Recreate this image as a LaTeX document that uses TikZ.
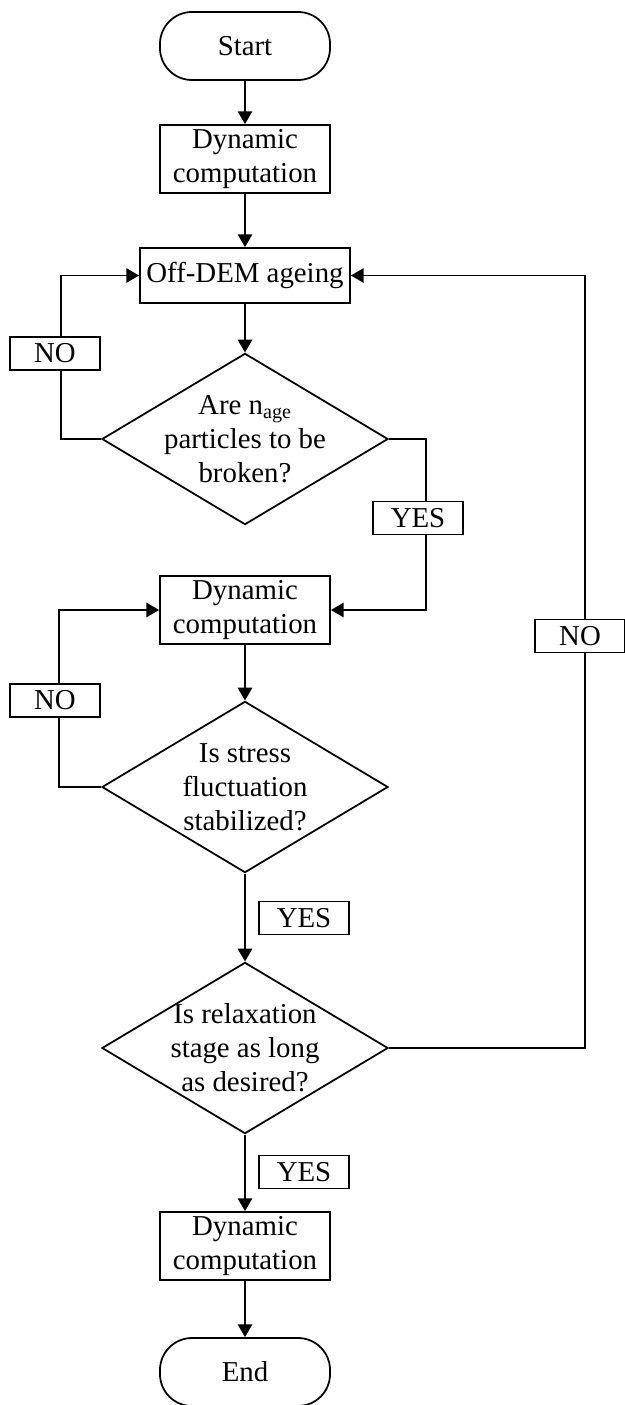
\documentclass[tikz,border=0pt]{standalone}
\usepackage{fontspec}
\setmainfont{Liberation Serif}
\usetikzlibrary{shapes.geometric,arrows.meta}

\begin{document}
\begin{tikzpicture}[x=0.025cm, y=-0.025cm, line width=1.25pt, >={Triangle[length=0.32cm,width=0.36cm]},
    every node/.style={font=\fontsize{20.5}{24.3}\selectfont, align=center},
    term/.style={draw, rounded corners=0.8cm, minimum width=4.25cm, minimum height=1.7cm, inner sep=0pt},
    proc/.style={draw, minimum width=4.25cm, minimum height=1.7cm, inner sep=0pt},
    decision/.style={draw, diamond, minimum width=7.15cm, minimum height=4.28cm, inner sep=0pt},
    answer/.style={draw, fill=white, minimum width=2.25cm, minimum height=0.82cm, inner sep=0pt}]
    \useasboundingbox (0,0) rectangle (624,1405);

    \node[term] (start) at (245,46) {Start};
    \node[proc] (dyn1) at (245,159) {Dynamic\\computation};
    \node[proc, minimum width=5.25cm, minimum height=1.375cm] (ageing) at (245,275.5) {Off-DEM ageing};
    \node[decision] (q1) at (245,439) {};
    \node (q1t) at (q1.center) {Are n\textsubscript{age}\\particles to be\\broken?};
    \node[proc] (dyn2) at (245,610) {Dynamic\\computation};
    \node[decision] (q2) at (245,787) {};
    \node (q2t) at (q2.center) {Is stress\\fluctuation\\stabilized?};
    \node[decision] (q3) at (245,1048) {};
    \node (q3t) at (q3.center) {Is relaxation\\stage as long\\as desired?};
    \node[proc] (dyn3) at (245,1246) {Dynamic\\computation};
    \node[term] (end) at (245,1372) {End};

    \draw[->] (start) -- (dyn1);
    \draw[->] (dyn1) -- (ageing);
    \draw[->] (ageing) -- (q1);
    \draw[->] (q1.west) -- ++(-40,0) |- (ageing.west);
    \draw[->] (q1.east) -- ++(37,0) |- (dyn2.east);
    \draw[->] (dyn2) -- (q2);
    \draw[->] (q2.west) -- ++(-42,0) |- (dyn2.west);
    \draw[->] (q2) -- (q3);
    \draw[->] (q3.east) -- ++(196,0) |- (ageing.east);
    \draw[->] (q3) -- (dyn3);
    \draw[->] (dyn3) -- (end);

    % answer tags sit on top of the lines
    \node[answer] (no1) at (55,353.5) {NO};
    \node[answer] (yes1) at (418,518) {YES};
    \node[answer] (no2) at (55,700.5) {NO};
    \node[answer] (yes2) at (304,918) {YES};
    \node[answer] (no3) at (580,636) {NO};
    \node[answer] (yes3) at (304,1172) {YES};
\end{tikzpicture}
\end{document}
